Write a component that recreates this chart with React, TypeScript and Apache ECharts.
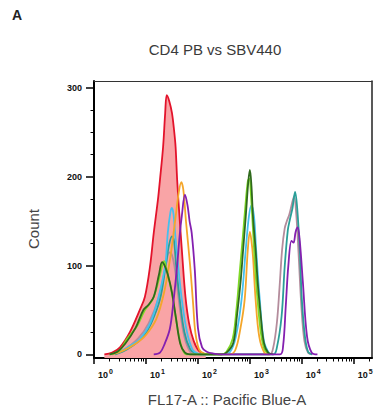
import React, { useEffect, useRef } from "react";
import * as echarts from "echarts";

// x values are log10 of FL17-A (decades), y values are counts
const decades = [0, 1, 2, 3, 4, 5];
const yMajor = [0, 100, 200, 300];
const yMinor = [25, 50, 75, 125, 150, 175, 225, 250, 275];

const redData: [number, number][] = [
  [0.2, 0], [0.35, 2], [0.5, 8], [0.69, 25], [0.88, 50], [0.98, 65], [1.08, 100],
  [1.15, 137], [1.23, 174], [1.27, 197], [1.33, 234], [1.37, 272], [1.4, 292],
  [1.45, 285], [1.5, 272], [1.54, 253], [1.57, 234], [1.6, 197], [1.64, 160],
  [1.7, 110], [1.76, 65], [1.83, 35], [1.92, 15], [2.02, 4], [2.15, 0],
];

const orangeData: [number, number][] = [
  [0.35, 0], [0.55, 4], [0.8, 12], [1.0, 22], [1.2, 40], [1.35, 70], [1.47, 110],
  [1.56, 150], [1.63, 182], [1.68, 194], [1.72, 185], [1.77, 150], [1.85, 100],
  [1.91, 55], [1.95, 25], [2.02, 6], [2.12, 1], [2.3, 0],
  [2.6, 0], [2.72, 5], [2.82, 30], [2.9, 62], [2.96, 118], [3.0, 138], [3.03, 128],
  [3.06, 110], [3.11, 62], [3.18, 20], [3.28, 2], [3.38, 0],
];

const purpleData: [number, number][] = [
  [1.15, 0], [1.27, 2], [1.36, 12], [1.46, 29], [1.53, 60], [1.6, 100], [1.65, 135],
  [1.69, 156], [1.75, 180], [1.8, 168], [1.84, 150], [1.88, 137], [1.94, 95],
  [2.0, 30], [2.08, 8], [2.17, 3], [2.3, 1], [2.5, 0],
  [3.58, 0], [3.64, 10], [3.69, 54], [3.74, 100], [3.8, 128], [3.84, 126],
  [3.88, 138], [3.92, 143], [3.96, 128], [4.02, 81], [4.1, 20], [4.19, 2], [4.3, 0],
];

const skyData: [number, number][] = [
  [0.35, 0], [0.5, 3], [0.7, 10], [0.88, 17], [1.08, 35], [1.23, 62], [1.37, 100],
  [1.42, 137], [1.47, 160], [1.5, 165], [1.53, 158], [1.56, 137], [1.62, 100],
  [1.69, 62], [1.79, 25], [1.9, 5], [2.0, 1], [2.1, 0],
  [2.5, 0], [2.62, 3], [2.73, 20], [2.84, 62], [2.92, 118], [2.98, 155], [3.03, 168],
  [3.08, 155], [3.12, 118], [3.19, 62], [3.27, 15], [3.38, 0],
];

const tealData: [number, number][] = [
  [0.4, 0], [0.55, 3], [0.75, 10], [0.95, 20], [1.1, 35], [1.27, 62], [1.38, 100],
  [1.44, 122], [1.5, 133], [1.54, 128], [1.58, 100], [1.65, 62], [1.74, 25],
  [1.85, 6], [1.95, 1], [2.05, 0],
  [3.45, 0], [3.52, 8], [3.61, 43], [3.67, 99], [3.73, 140], [3.77, 152], [3.82, 165],
  [3.87, 183], [3.91, 165], [3.96, 118], [4.0, 62], [4.06, 20], [4.12, 3], [4.2, 0],
];

const greenData: [number, number][] = [
  [0.3, 0], [0.37, 1], [0.5, 5], [0.63, 17], [0.83, 32], [0.98, 50], [1.13, 62],
  [1.25, 85], [1.32, 102], [1.35, 105], [1.4, 95], [1.46, 80], [1.52, 62],
  [1.62, 25], [1.7, 6], [1.78, 0],
  [2.45, 0], [2.55, 3], [2.67, 18], [2.74, 50], [2.8, 90], [2.86, 130], [2.91, 165],
  [2.96, 195], [2.99, 198], [3.02, 180], [3.06, 140], [3.1, 100], [3.15, 60],
  [3.21, 25], [3.28, 6], [3.38, 0],
];

const darkGreenData: [number, number][] = [
  [0.3, 0], [0.45, 3], [0.6, 12], [0.8, 30], [0.95, 50], [1.05, 56], [1.15, 65],
  [1.25, 90], [1.31, 104], [1.36, 100], [1.42, 90], [1.5, 70], [1.58, 40],
  [1.66, 12], [1.75, 2], [1.85, 0],
  [2.45, 0], [2.55, 2], [2.68, 13], [2.75, 43], [2.82, 81], [2.87, 118], [2.92, 155],
  [2.97, 195], [3.0, 208], [3.03, 190], [3.06, 155], [3.11, 118], [3.15, 81],
  [3.21, 43], [3.27, 13], [3.35, 2], [3.45, 0],
];

const greyData: [number, number][] = [
  [0.4, 0], [0.6, 6], [0.85, 18], [1.05, 35], [1.25, 65], [1.38, 100], [1.45, 115],
  [1.5, 112], [1.56, 95], [1.63, 62], [1.72, 25], [1.82, 6], [1.92, 0],
  [3.38, 0], [3.45, 8], [3.52, 36], [3.57, 75], [3.62, 118], [3.67, 142], [3.71, 150],
  [3.76, 158], [3.81, 170], [3.85, 178], [3.89, 160], [3.94, 110], [3.99, 55],
  [4.05, 15], [4.12, 2], [4.2, 0],
];

const lineSeries: { name: string; color: string; data: [number, number][] }[] = [
  { name: "grey", color: "#b48c9c", data: greyData },
  { name: "teal", color: "#2a9f98", data: tealData },
  { name: "sky", color: "#45c0ee", data: skyData },
  { name: "orange", color: "#f4a62a", data: orangeData },
  { name: "green", color: "#7fd926", data: greenData },
  { name: "darkgreen", color: "#2f6a1c", data: darkGreenData },
  { name: "purple", color: "#8420b0", data: purpleData },
];

export default function App() {
  const ref = useRef<HTMLDivElement>(null);
  useEffect(() => {
    if (!ref.current) return;
    const chart = echarts.init(ref.current, null, { renderer: "svg" });
    const minorX: number[] = [];
    decades.forEach((n) => {
      for (let k = 2; k <= 9; k++) {
        const v = n + Math.log10(k);
        if (v <= 5.35) minorX.push(v);
      }
    });
    const labelFont = "Arial, 'Liberation Sans', sans-serif";
    const series: any[] = [
      {
        type: "line",
        name: "red",
        data: redData,
        smooth: 0.35,
        showSymbol: false,
        lineStyle: { color: "#e3132b", width: 1.8 },
        areaStyle: { color: "#f9a4a6", opacity: 1, origin: "start" },
        z: 1,
      },
      ...lineSeries.map((s, i) => ({
        type: "line",
        name: s.name,
        data: s.data,
        smooth: 0.35,
        showSymbol: false,
        lineStyle: { color: s.color, width: 1.8 },
        z: 2 + i,
      })),
    ];
    chart.setOption({
      animation: false,
      grid: { left: 94, right: 15, top: 81, bottom: 58, containLabel: false },
      xAxis: [
        {
          type: "value",
          min: 0,
          max: 5.35,
          position: "bottom",
          axisLine: { show: true, onZero: false, lineStyle: { color: "#000", width: 2 } },
          axisTick: { show: true, customValues: decades, length: 6, lineStyle: { color: "#000", width: 1.5 } },
          splitLine: { show: false },
          axisLabel: {
            show: true,
            customValues: decades,
            align: "left",
            margin: 10,
            padding: [0, 0, 0, 4],
            formatter: (v: number) => `{b|10}{s|${Math.round(v)}}`,
            rich: {
              b: { fontSize: 9, fontWeight: "bold", color: "#111", fontFamily: labelFont },
              s: { fontSize: 7, fontWeight: "bold", color: "#111", fontFamily: labelFont, padding: [0, 0, 7, 1] },
            },
          },
        },
        {
          type: "value",
          min: 0,
          max: 5.35,
          position: "bottom",
          axisLine: { show: false, onZero: false },
          axisTick: { show: true, customValues: minorX, length: 3.5, lineStyle: { color: "#000", width: 1 } },
          axisLabel: { show: false },
          splitLine: { show: false },
        },
        {
          type: "value",
          min: 0,
          max: 5.35,
          position: "top",
          axisLine: { show: true, onZero: false, lineStyle: { color: "#333", width: 1 } },
          axisTick: { show: false },
          axisLabel: { show: false },
          splitLine: { show: false },
        },
      ],
      yAxis: [
        {
          type: "value",
          min: -4,
          max: 308,
          position: "left",
          axisLine: { show: true, onZero: false, lineStyle: { color: "#000", width: 2 } },
          axisTick: { show: true, customValues: yMajor, length: 8, lineStyle: { color: "#000", width: 1.5 } },
          axisLabel: {
            show: true,
            customValues: yMajor,
            margin: 12,
            fontSize: 9,
            fontWeight: "bold",
            color: "#111",
            fontFamily: labelFont,
          },
          splitLine: { show: false },
        },
        {
          type: "value",
          min: -4,
          max: 308,
          position: "left",
          axisLine: { show: false, onZero: false },
          axisTick: { show: true, customValues: yMinor, length: 3.5, lineStyle: { color: "#000", width: 1 } },
          axisLabel: { show: false },
          splitLine: { show: false },
        },
        {
          type: "value",
          min: -4,
          max: 308,
          position: "right",
          axisLine: { show: true, onZero: false, lineStyle: { color: "#222", width: 1.5 } },
          axisTick: { show: false },
          axisLabel: { show: false },
          splitLine: { show: false },
        },
      ],
      series,
      graphic: [
        {
          type: "text",
          x: 17,
          y: 15,
          style: { text: "A", font: `bold 14px ${labelFont}`, fill: "#222", align: "center", verticalAlign: "middle" },
        },
        {
          type: "text",
          x: 215,
          y: 49,
          style: { text: "CD4 PB vs SBV440", font: `15px ${labelFont}`, fill: "#3a3a3a", align: "center", verticalAlign: "middle" },
        },
        {
          type: "text",
          x: 227,
          y: 399,
          style: { text: "FL17-A :: Pacific Blue-A", font: `15px ${labelFont}`, fill: "#444", align: "center", verticalAlign: "middle" },
        },
        {
          type: "text",
          x: 33,
          y: 229,
          rotation: Math.PI / 2,
          style: { text: "Count", font: `15px ${labelFont}`, fill: "#444", align: "center", verticalAlign: "middle" },
        },
      ],
    });
    return () => chart.dispose();
  }, []);
  return <div ref={ref} style={{ width: 387, height: 416, position: "absolute", left: 0, top: 0 }} />;
}
